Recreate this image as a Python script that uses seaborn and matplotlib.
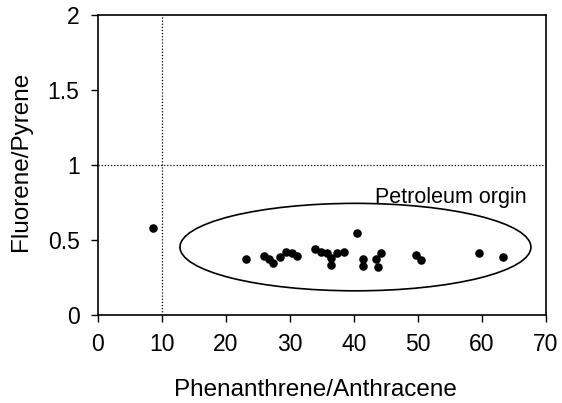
import matplotlib
matplotlib.use("Agg")
import matplotlib.pyplot as plt
from matplotlib.patches import Ellipse
import seaborn as sns
import pandas as pd

# Data
phen_anth = [8.6, 23.2, 25.9, 26.7, 27.4, 28.5, 29.4, 30.3, 31.1, 34.0, 34.8, 35.8,
             36.5, 36.5, 37.3, 38.4, 40.5, 41.4, 41.4, 43.5, 43.7, 44.3, 49.7, 50.5,
             59.6, 63.3]
fluor_pyr = [0.578, 0.371, 0.393, 0.369, 0.343, 0.383, 0.418, 0.41, 0.393, 0.436, 0.42, 0.41,
             0.376, 0.331, 0.413, 0.42, 0.543, 0.369, 0.325, 0.369, 0.32, 0.413, 0.398, 0.365,
             0.409, 0.387]
x_ticks = [0, 10, 20, 30, 40, 50, 60, 70]
y_ticks = [0, 0.5, 1, 1.5, 2]
y_tick_labels = ["0", "0.5", "1", "1.5", "2"]
annotation = "Petroleum orgin"

sns.set_theme(style="white")
plt.rcParams["font.family"] = ["Liberation Sans", "DejaVu Sans"]

df = pd.DataFrame({"Phenanthrene/Anthracene": phen_anth, "Fluorene/Pyrene": fluor_pyr})

fig = plt.figure(figsize=(5.62, 4.03), dpi=100)
ax = fig.add_axes([0.1738, 0.219, 0.7977, 0.7445])

sns.scatterplot(data=df, x="Phenanthrene/Anthracene", y="Fluorene/Pyrene", ax=ax,
                color="black", s=38, edgecolor="black", linewidth=0, zorder=3)

ax.axvline(10, color="black", linestyle=(0, (1, 1.5)), linewidth=0.9, zorder=1)
ax.axhline(1, color="black", linestyle=(0, (1, 1.5)), linewidth=0.9, zorder=1)

ell = Ellipse((40.25, 0.451), 54.8, 0.583, fill=False, edgecolor="black", linewidth=1.2, zorder=2)
ax.add_patch(ell)
ax.text(43.3, 0.743, annotation, fontsize=15.5, color="black", va="baseline", ha="left")

ax.set_xlim(0, 70)
ax.set_ylim(0, 2)
ax.set_xticks(x_ticks)
ax.set_xticklabels([str(t) for t in x_ticks])
ax.set_yticks(y_ticks)
ax.set_yticklabels(y_tick_labels)
ax.tick_params(axis="both", direction="out", length=5, width=1, color="black",
               labelsize=16.5, labelcolor="black", bottom=True, left=True)
ax.tick_params(axis="x", pad=8)
ax.tick_params(axis="y", pad=8)
ax.set_xlabel("Phenanthrene/Anthracene", fontsize=17.5, color="black")
ax.set_ylabel("Fluorene/Pyrene", fontsize=17.5, color="black")
ax.xaxis.set_label_coords(0.485, -0.25)
ax.xaxis.label.set_va("center")
ax.yaxis.set_label_coords(-0.172, 0.512)
ax.yaxis.label.set_va("center")
for sp in ax.spines.values():
    sp.set_visible(True)
    sp.set_color("black")
    sp.set_linewidth(1.2)
ax.grid(False)

fig.savefig("out.png", dpi=100)
